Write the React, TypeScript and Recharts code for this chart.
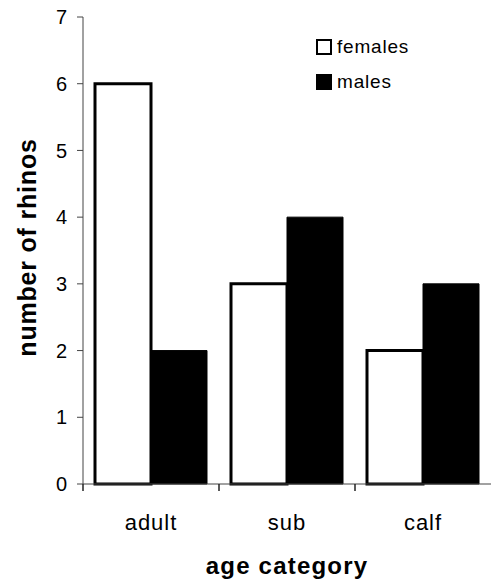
import React from 'react'
import { BarChart, Bar, XAxis, YAxis, Legend } from 'recharts'

const categories = ['adult', 'sub', 'calf']
const females = [6, 3, 2]
const males = [2, 4, 3]
const yTicks = [0, 1, 2, 3, 4, 5, 6, 7]

const FONT = '"Liberation Sans", Arial, Helvetica, sans-serif'
const PLOT_WIDTH = 408

const data = categories.map((c, i) => ({ cat: c, females: females[i], males: males[i] }))

// tick mark sits on the category boundary (Excel style), label stays centred
function CategoryTick(props: any) {
  const { x, y, payload } = props
  const off = PLOT_WIDTH / categories.length / 2
  return (
    <g>
      <path d={`M${x - off},${y}L${x - off},${y + 7}`} stroke="#222" strokeWidth={1.5} />
      <text
        x={x}
        y={y + 46}
        textAnchor="middle"
        fontFamily={FONT}
        fontSize={22}
        letterSpacing={1}
        fill="#000"
      >
        {payload.value}
      </text>
    </g>
  )
}

function LegendBox() {
  const row = (label: string, filled: boolean) => (
    <div style={{ display: 'flex', alignItems: 'center', height: 35 }}>
      <div
        style={{
          width: 16,
          height: 16,
          boxSizing: 'border-box',
          border: '2px solid #000',
          background: filled ? '#000' : '#fff',
          marginRight: 5,
        }}
      />
      <span style={{ fontFamily: FONT, fontSize: 19, color: '#000', letterSpacing: 0.8 }}>{label}</span>
    </div>
  )
  return (
    <div>
      {row('females', false)}
      {row('males', true)}
    </div>
  )
}

export default function App() {
  return (
    <div style={{ position: 'absolute', left: 0, top: 0, background: '#fff' }}>
      <BarChart
        width={83 + PLOT_WIDTH}
        height={581}
        data={data}
        margin={{ top: 17, right: 0, left: 0, bottom: 0 }}
        barCategoryGap={12}
        barGap={0}
      >
        <XAxis
          dataKey="cat"
          height={97}
          stroke="#444"
          tickLine={false}
          tickSize={0}
          tickMargin={0}
          tick={<CategoryTick />}
          label={{
            content: ({ viewBox }: any) => (
              <text
                x={viewBox.x + viewBox.width / 2}
                y={viewBox.y + viewBox.height - 7}
                textAnchor="middle"
                fontFamily={FONT}
                fontSize={24}
                fontWeight="bold"
                letterSpacing={1.2}
                fill="#000"
              >
                age category
              </text>
            ),
          }}
        />
        <YAxis
          width={83}
          domain={[0, 7]}
          ticks={yTicks}
          interval={0}
          stroke="#444"
          tickSize={6}
          tickMargin={10}
          tick={{ fontFamily: FONT, fontSize: 20, fill: '#000' }}
          label={{
            content: ({ viewBox }: any) => {
              const cx = viewBox.x + 27
              const cy = viewBox.y + viewBox.height / 2 - 3
              return (
                <text
                  x={cx}
                  y={cy}
                  transform={`rotate(-90 ${cx} ${cy})`}
                  textAnchor="middle"
                  dominantBaseline="central"
                  fontFamily={FONT}
                  fontSize={25}
                  fontWeight="bold"
                  letterSpacing={0.8}
                  fill="#000"
                >
                  number of rhinos
                </text>
              )
            },
          }}
        />
        <Legend
          layout="horizontal"
          align="center"
          verticalAlign="middle"
          content={<LegendBox />}
          wrapperStyle={{ left: 316, top: 29, width: 'auto' }}
        />
        <Bar dataKey="females" fill="#fff" stroke="#000" strokeWidth={3} isAnimationActive={false} />
        <Bar dataKey="males" fill="#000" stroke="#000" strokeWidth={1} isAnimationActive={false} />
      </BarChart>
    </div>
  )
}
